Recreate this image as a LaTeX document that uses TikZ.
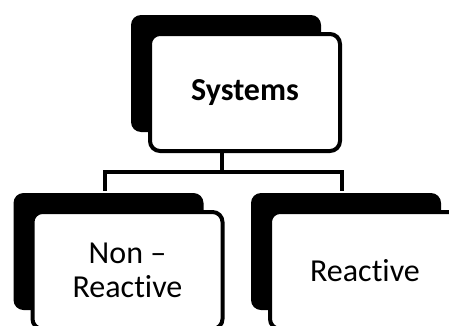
\documentclass[tikz,border=0pt]{standalone}
\usepackage{fontspec}
\setmainfont{Carlito}[Ligatures=NoCommon]
\usetikzlibrary{shadows}

\begin{document}
\begin{tikzpicture}[x=1pt,y=1pt]
\useasboundingbox (0,0) rectangle (449,325);
\clip (0,0) rectangle (449,325);
\begin{scope}[every node/.style={draw,line width=4pt,fill=white,rounded corners=10pt,minimum width=190pt,minimum height=117pt,align=center,font=\fontsize{32}{34}\selectfont,drop shadow={shadow xshift=-19pt,shadow yshift=19pt,opacity=1,fill=black}}]
    \node (sys) at (245,232.5) {\textbf{Systems}};
    \node (nonreact) at (127.5,54.5) {Non –\\Reactive};
    \node (react) at (365,54.5) {Reactive};
\end{scope}

\coordinate (bar) at ([shift={(-23,-19)}]sys.south);
\draw[line width=4pt] ([xshift=-23pt]sys.south) -- (bar);
\draw[line width=4pt] ([shift={(-23,19)}]nonreact.north) |- (bar) -| ([shift={(-23,19)}]react.north);
\end{tikzpicture}
\end{document}
